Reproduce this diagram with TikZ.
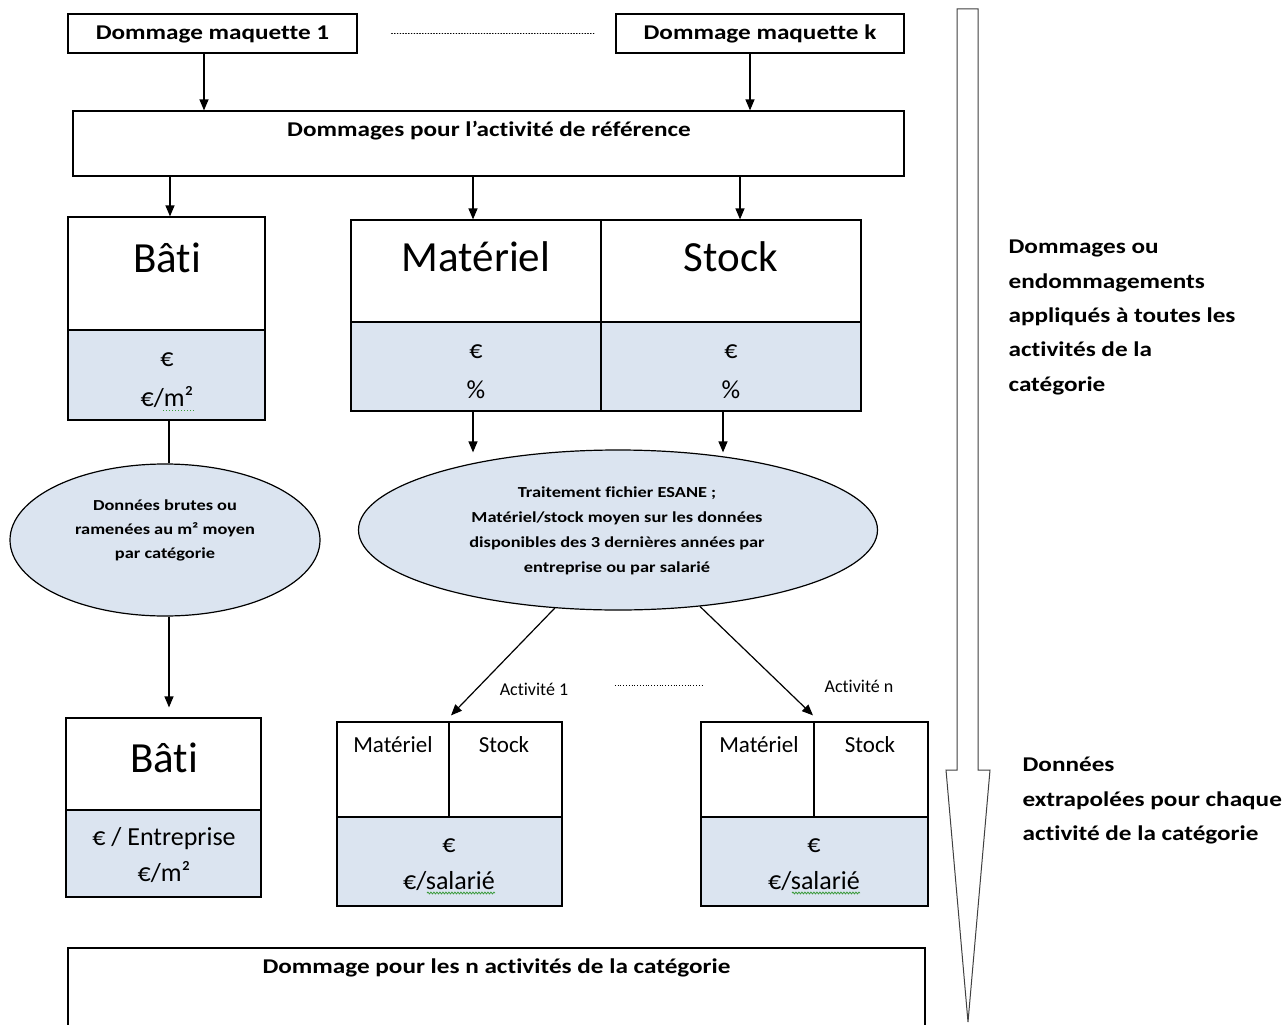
\documentclass[tikz,border=0pt]{standalone}
\usepackage{fontspec}
\setmainfont{Carlito}[Ligatures=NoCommon]
\newfontfamily\bcal{Carlito}[FakeStretch=1.2,Ligatures=NoCommon]
\usetikzlibrary{arrows.meta,shapes.geometric,decorations.pathmorphing,calc}
\definecolor{paleblue}{HTML}{DBE4F0}
\definecolor{squig}{HTML}{3A9A3A}
\begin{document}
\begin{tikzpicture}[x=1pt,y=-1pt,line width=1.2pt,
  box/.style={draw,rectangle,inner sep=0pt},
  oval/.style={draw,ellipse,inner sep=0pt,fill=paleblue},
  arr/.style={-{Triangle[length=11pt,width=9pt]}},
  bt/.style={font=\bcal\bfseries\fontsize{21}{25}\selectfont,anchor=base,inner sep=0pt},
  et/.style={font=\bcal\bfseries\fontsize{15.3}{18}\selectfont,anchor=base,inner sep=0pt},
  big/.style={font=\fontsize{43}{50}\selectfont,anchor=base,inner sep=0pt},
  mid/.style={font=\fontsize{26}{30}\selectfont,anchor=base,inner sep=0pt},
  sm/.style={font=\fontsize{23}{27}\selectfont,anchor=base,inner sep=0pt},
  tiny/.style={font=\fontsize{18}{22}\selectfont,anchor=base,inner sep=0pt},
  rt/.style={font=\bcal\bfseries\fontsize{21}{25}\selectfont,anchor=base west,inner sep=0pt},
  squiggle/.style={draw=squig,line width=0.8pt,decorate,decoration={snake,amplitude=0.9pt,segment length=3pt}}]
\useasboundingbox (0,0) rectangle (1285,1025);
\fill[white] (0,0) rectangle (1285,1025);

% colored bottom parts
\fill[paleblue] (68,330) rectangle (265,420);
\fill[paleblue] (351,322) rectangle (861,411);
\fill[paleblue] (66,810) rectangle (261,897);
\fill[paleblue] (337,817) rectangle (562,906);
\fill[paleblue] (701,817) rectangle (928,906);

% boxes
\node[box,minimum width=289pt,minimum height=39pt] (m1) at (212.5,33.5) {};
\node[box,minimum width=288pt,minimum height=39pt] (mk) at (760,33.5) {};
\node[box,minimum width=831pt,minimum height=65pt] (ref) at (488.5,143.5) {};
\node[box,minimum width=197pt,minimum height=203pt] (bati) at (166.5,318.5) {};
\node[box,minimum width=510pt,minimum height=191pt] (mat) at (606,315.5) {};
\node[box,minimum width=195pt,minimum height=179pt] (bati2) at (163.5,807.5) {};
\node[box,minimum width=225pt,minimum height=184pt] (act1) at (449.5,814) {};
\node[box,minimum width=227pt,minimum height=184pt] (actn) at (814.5,814) {};
\node[box,minimum width=857pt,minimum height=90pt] (bot) at (496.5,993) {};
\node[oval,minimum width=310pt,minimum height=152pt] (ell1) at (165,540) {};
\node[oval,minimum width=519pt,minimum height=160pt] (ell2) at (618,530) {};

% inner dividers
\draw (68,330) -- (265,330);
\draw (351,322) -- (861,322);
\draw (601,220) -- (601,411);
\draw (66,810) -- (261,810);
\draw (337,817) -- (562,817);
\draw (449,722) -- (449,817);
\draw (701,817) -- (928,817);
\draw (814,722) -- (814,817);

% texts
\node[bt] (t1) at (212.5,40) {Dommage maquette 1};
\node[bt] (t2) at (760,40) {Dommage maquette k};
\node[bt] (t3) at (489,136) {Dommages pour l’activité de référence};
\node[big] (t4) at (167,272) {Bâti};
\node[mid] (t5) at (167,366) {€};
\node[mid] (t6) at (167,406) {€/m²};
\node[big] (t7) at (476,271) {Matériel};
\node[big] (t8) at (731,271) {Stock};
\node[mid] (t9) at (476,358) {€};
\node[mid] (t10) at (476,398) {\%};
\node[mid] (t11) at (731,358) {€};
\node[mid] (t12) at (731,398) {\%};
\node[et] (e1) at (165,510) {Données brutes ou};
\node[et] (e2) at (165,534) {ramenées au m² moyen};
\node[et] (e3) at (165,558) {par catégorie};
\node[et] (f1) at (617,497) {Traitement fichier ESANE ;};
\node[et] (f2) at (617,522) {Matériel/stock moyen sur les données};
\node[et] (f3) at (617,547) {disponibles des 3 dernières années par};
\node[et] (f4) at (617,572) {entreprise ou par salarié};
\node[tiny] (a1) at (534,695) {Activité 1};
\node[tiny] (an) at (859,692) {Activité n};
\node[big] (t13) at (164,772) {Bâti};
\node[mid] (t14) at (164,845) {€ / Entreprise};
\node[mid] (t15) at (164,881) {€/m²};
\node[sm] (t16) at (393,752) {Matériel};
\node[sm] (t17) at (504,752) {Stock};
\node[mid] (t18) at (449,852) {€};
\node[mid] (t19) at (449,889) {€/salarié};
\node[sm] (t20) at (759,752) {Matériel};
\node[sm] (t21) at (870,752) {Stock};
\node[mid] (t22) at (814,852) {€};
\node[mid] (t23) at (814,889) {€/salarié};
\node[bt] (t24) at (496.5,973) {Dommage pour les n activités de la catégorie};

\node[rt] (r1) at (1008,253) {Dommages ou};
\node[rt] (r2) at (1008,288) {endommagements};
\node[rt] (r3) at (1008,322) {appliqués à toutes les};
\node[rt] (r4) at (1008,356) {activités de la};
\node[rt] (r5) at (1008,391) {catégorie};
\node[rt] (s1) at (1022,771) {Données};
\node[rt] (s2) at (1022,806) {extrapolées pour chaque};
\node[rt] (s3) at (1022,840) {activité de la catégorie};

% spell-check marks
\draw[draw=squig,line width=1pt,dotted] (163,410) -- (195,410);
\draw[squiggle] (427,893) -- (495,893);
\draw[squiggle] (792,893) -- (860,893);

% connector anchor points
\coordinate (c1) at ($(m1.south)+(-8.5,0)$);
\coordinate (c2) at ($(mk.south)+(-10,0)$);
\coordinate (c3) at ($(bati.north)+(3.5,0)$);
\coordinate (c4) at ($(mat.north)+(-133,0)$);
\coordinate (c5) at ($(mat.north)+(134,0)$);
\coordinate (c6) at ($(bati.south)+(2.5,0)$);
\coordinate (c7) at ($(mat.south)+(-133,0)$);
\coordinate (c8) at ($(mat.south)+(117,0)$);
\coordinate (c9) at ($(ell1.south)+(4,0)$);

% connectors
\draw[arr] (c1) -- (c1 |- ref.north);
\draw[arr] (c2) -- (c2 |- ref.north);
\draw[arr] (c3 |- ref.south) -- (c3);
\draw[arr] (c4 |- ref.south) -- (c4);
\draw[arr] (c5 |- ref.south) -- (c5);
\draw (c6) -- (c6 |- ell1.north);
\draw[arr] (c7) -- ($(c7 |- ell2.north)+(0,3)$);
\draw[arr] (c8) -- ($(c8 |- ell2.north)+(0,3)$);
\draw[arr] (c9) -- ($(c9 |- bati2.north)+(0,-10)$);
\draw[arr] (ell2.231) -- ($(act1.north)+(1.5,-6)$);
\draw[arr] (ell2.317) -- ($(actn.north)+(-1.5,-6)$);

% dotted fillers
\draw[line width=0.8pt,dotted,line cap=round] ($(m1.east)+(34,0)$) -- ($(mk.west)+(-21,0)$);
\draw[line width=0.8pt,dotted] ($(a1.east)+(46,-3)$) -- ($(a1.east)+(133,-3)$);

% big arrow
\draw[line width=1pt,draw=black!75,fill=white] (957,9) -- (978,9) -- (978,770) -- (990,770) -- (968,1022) -- (946,770) -- (957,770) -- cycle;
\end{tikzpicture}
\end{document}
